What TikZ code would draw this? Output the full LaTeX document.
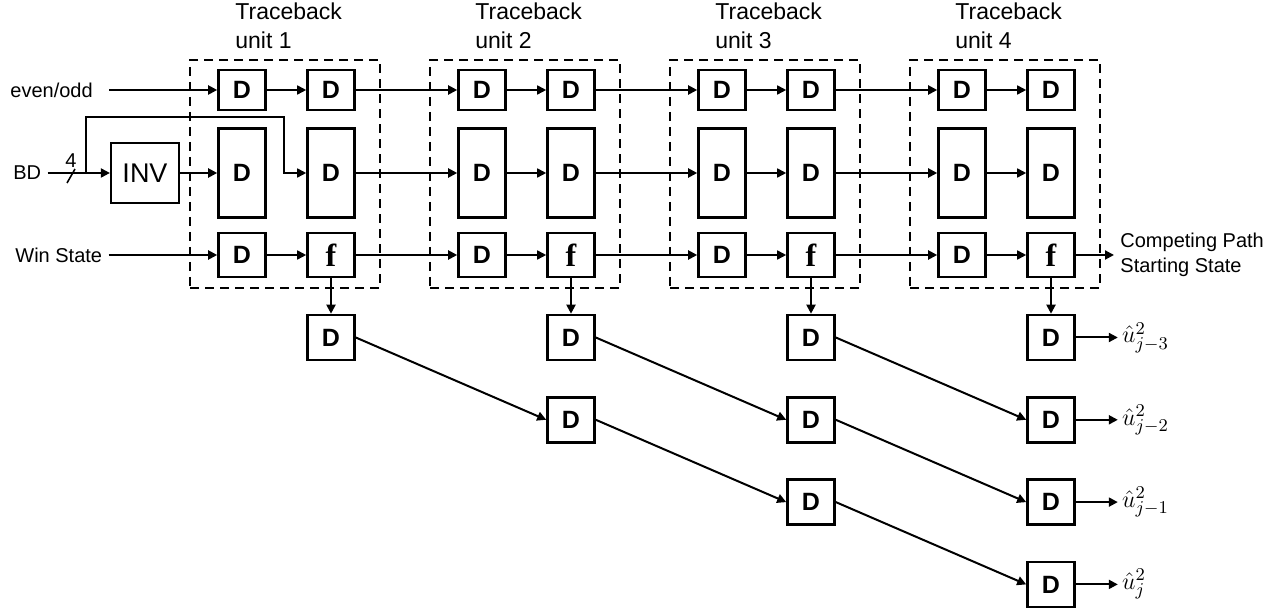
\documentclass[tikz,border=0pt]{standalone}
\usepackage{fontspec}
\setmainfont{Liberation Sans}
\newfontfamily\fontf{Liberation Serif}
\usetikzlibrary{arrows.meta,positioning}
\tikzset{
  reg/.style={draw, line width=1.3pt, minimum width=23.5pt, inner sep=0pt, font=\fontsize{12.5}{13}\selectfont\bfseries},
  regtop/.style={reg, minimum height=20pt},
  regmid/.style={reg, minimum height=44.5pt},
  regbot/.style={reg, minimum height=22pt},
  regout/.style={reg, minimum height=22.5pt},
  fn/.style={regbot, font=\fontsize{16}{16}\fontf\bfseries},
  invbox/.style={draw, line width=1.1pt, minimum width=34pt, minimum height=30pt, font=\fontsize{13.5}{14}\selectfont},
  unitframe/.style={draw, line width=1.4pt, dash pattern=on 4.5pt off 3pt, minimum width=95pt, minimum height=114pt},
  unittitle/.style={anchor=north west, inner sep=0pt, align=left, font=\fontsize{11.5}{14.5}\selectfont},
  lbl/.style={font=\fontsize{10}{12.5}\selectfont, inner sep=3pt},
  wire/.style={-{Triangle[length=4.5pt,width=4.5pt]}, line width=1pt},
  thinwire/.style={wire, line width=0.8pt},
}

\begin{document}
\begin{tikzpicture}[x=0.5pt, y=-0.5pt]
  \useasboundingbox (0,0) rectangle (1277,613);

  % traceback units
  \foreach \k in {1,...,4} {
    \pgfmathsetmacro\xa{242+240*(\k-1)}
    \pgfmathsetmacro\xb{331+240*(\k-1)}
    \node[unitframe] (u\k) at ({\xa+43},174) {};
    \node[unittitle] (hd\k) at ({\xa-7},2) {Traceback\\unit \k};
    \node[regtop] (ea\k) at (\xa,90) {D};
    \node[regtop] (eb\k) at (\xb,90) {D};
    \node[regmid] (ma\k) at (\xa,173) {D};
    \node[regmid] (mb\k) at (\xb,173) {D};
    \node[regbot] (wa\k) at (\xa,255) {D};
    \node[fn] (wb\k) at (\xb,255) {f};
  }

  % output delay line
  \foreach \c in {1,...,4}
    \foreach \r in {1,...,\c}
      \node[regout] (d\c\r) at ({331+240*(\c-1)},{337.5+82.3*(\r-1)}) {D};

  % inputs
  \node[lbl, anchor=west] (eo) at (4,90) {even/odd};
  \node[lbl, anchor=west] (bd) at (7,173) {BD};
  \node[invbox] (inv) at (145,173) {INV};
  \node[lbl, anchor=west] (win) at (9,255) {Win State};
  \node[lbl, inner sep=0pt] (w4) at (71,161) {4};
  \coordinate (tap) at (86,173);
  \coordinate (bend) at (284,117);

  \draw[wire, shorten <=5pt] (eo) -- (ea1);
  \draw[wire] (bd) -- (inv);
  \draw[line width=0.8pt] ([shift={(-19,10)}]tap) -- ([shift={(-11,-4)}]tap);
  \draw[thinwire] (tap) |- (bend) |- (mb1);
  \draw[wire] (inv) -- (ma1);
  \draw[wire] (win) -- (wa1);

  \foreach \k in {1,...,4} {
    \draw[thinwire] (ea\k) -- (eb\k);
    \draw[thinwire] (wa\k) -- (wb\k);
    \draw[wire] (wb\k) -- (d\k1);
  }
  \foreach \k in {2,3,4} \draw[thinwire] (ma\k) -- (mb\k);
  \foreach \k [evaluate=\k as \n using int(\k+1)] in {1,2,3} {
    \draw[wire] (eb\k) -- (ea\n);
    \draw[wire] (mb\k) -- (ma\n);
    \draw[wire] (wb\k) -- (wa\n);
  }

  \node[lbl, anchor=west, align=left] (cp) at (1114,255) {Competing Path\\Starting State};
  \draw[wire] (wb4) -- (cp);

  \foreach \c in {1,2,3}
    \foreach \r in {1,...,\c} {
      \pgfmathtruncatemacro\n{\c+1}
      \pgfmathtruncatemacro\m{\r+1}
      \draw[wire] (d\c\r.east) -- (d\n\m.west);
    }

  \node[lbl, right=21pt of d41, font=\fontsize{13}{14}\selectfont, inner sep=2pt] (q1) {$\hat{u}^2_{j-3}$};
  \node[lbl, right=21pt of d42, font=\fontsize{13}{14}\selectfont, inner sep=2pt] (q2) {$\hat{u}^2_{j-2}$};
  \node[lbl, right=21pt of d43, font=\fontsize{13}{14}\selectfont, inner sep=2pt] (q3) {$\hat{u}^2_{j-1}$};
  \node[lbl, right=21pt of d44, font=\fontsize{13}{14}\selectfont, inner sep=2pt] (q4) {$\hat{u}^2_{j}$};
  \foreach \r in {1,...,4} \draw[wire] (d4\r) -- (q\r);
\end{tikzpicture}
\end{document}
